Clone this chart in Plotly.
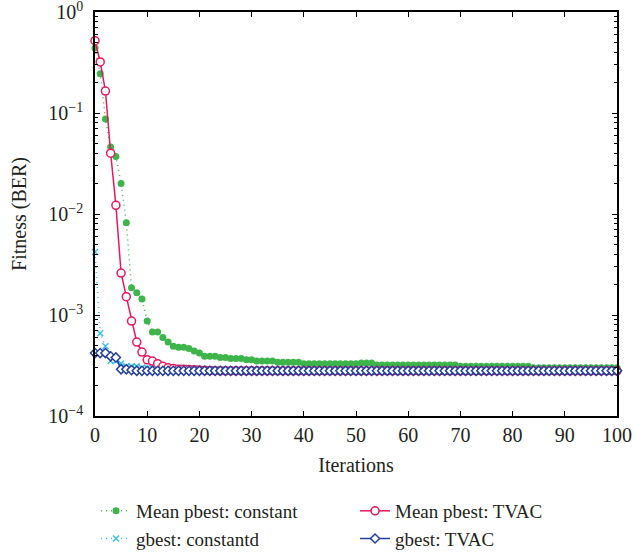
import plotly.graph_objects as go

iterations = list(range(0, 101))

mean_pbest_constant = [
    0.44, 0.245, 0.087, 0.046, 0.037, 0.020, 0.0082, 0.00186, 0.00166, 0.00144,
    0.00087, 0.00068, 0.00068, 0.00060, 0.00054, 0.00049, 0.00048, 0.00048, 0.000465, 0.00044,
    0.00042, 0.00039, 0.00039, 0.00039, 0.00038, 0.00038, 0.00037, 0.00037, 0.00037, 0.00036,
    0.00036, 0.00035, 0.00035, 0.00035, 0.00035, 0.00034, 0.00034, 0.00034, 0.00034, 0.00034,
    0.00033, 0.00033, 0.00033, 0.00033, 0.00033, 0.00033, 0.00033, 0.00033, 0.00033, 0.00033,
    0.00033, 0.000335, 0.000335, 0.000335, 0.00032, 0.00032, 0.00032, 0.00032, 0.00032, 0.00032,
    0.00032, 0.00032, 0.00032, 0.00032, 0.00032, 0.00032, 0.00032, 0.00032, 0.00032, 0.00032,
    0.00031, 0.00031, 0.00031, 0.00031, 0.00031, 0.00031, 0.00031, 0.00031, 0.00031, 0.00031,
    0.00031, 0.00031, 0.00031, 0.00031, 0.00030, 0.00030, 0.00030, 0.00030, 0.00030, 0.00030,
    0.00030, 0.00030, 0.00030, 0.00030, 0.00030, 0.00030, 0.00030, 0.00030, 0.00030, 0.00030,
    0.00030,
]

gbest_constant = [
    0.0042, 0.00066, 0.00049, 0.00035, 0.00035, 0.00033, 0.00031, 0.00031, 0.00031, 0.00030,
    0.00030, 0.00030, 0.00030, 0.00030, 0.00030, 0.00030, 0.00030, 0.00030, 0.000295, 0.000295,
    0.00029, 0.00029, 0.00029, 0.000285, 0.000285, 0.000285, 0.00028, 0.00028, 0.00028, 0.00028,
    0.00028, 0.00028, 0.00028, 0.00028, 0.00028, 0.00028, 0.00028, 0.00028, 0.00028, 0.00028,
    0.00028, 0.00028, 0.00028, 0.00028, 0.00028, 0.00028, 0.00028, 0.00028, 0.00028, 0.00028,
    0.00028, 0.00028, 0.00028, 0.00028, 0.00028, 0.00028, 0.00028, 0.00028, 0.00028, 0.00028,
    0.00028, 0.00028, 0.00028, 0.00028, 0.00028, 0.00028, 0.00028, 0.00028, 0.00028, 0.00028,
    0.00028, 0.00028, 0.00028, 0.00028, 0.00028, 0.00028, 0.00028, 0.00028, 0.00028, 0.00028,
    0.00028, 0.00028, 0.00028, 0.00028, 0.00028, 0.00028, 0.00028, 0.00028, 0.00028, 0.00028,
    0.00028, 0.00028, 0.00028, 0.00028, 0.00028, 0.00028, 0.00028, 0.00028, 0.00028, 0.00028,
    0.00028,
]

mean_pbest_tvac = [
    0.52, 0.32, 0.165, 0.040, 0.0122, 0.0026, 0.00152, 0.00087, 0.00054, 0.00043,
    0.00036, 0.00035, 0.00033, 0.00031, 0.00030, 0.000295, 0.00029, 0.00029, 0.000288, 0.000287,
    0.000285, 0.000283, 0.000282, 0.000281, 0.00028, 0.00028, 0.00028, 0.00028, 0.00028, 0.00028,
    0.00028, 0.00028, 0.00028, 0.00028, 0.00028, 0.00028, 0.00028, 0.00028, 0.00028, 0.00028,
    0.00028, 0.00028, 0.00028, 0.00028, 0.00028, 0.00028, 0.00028, 0.00028, 0.00028, 0.00028,
    0.00028, 0.00028, 0.00028, 0.00028, 0.00028, 0.00028, 0.00028, 0.00028, 0.00028, 0.00028,
    0.00028, 0.00028, 0.00028, 0.00028, 0.00028, 0.00028, 0.00028, 0.00028, 0.00028, 0.00028,
    0.00028, 0.00028, 0.00028, 0.00028, 0.00028, 0.00028, 0.00028, 0.00028, 0.00028, 0.00028,
    0.00028, 0.00028, 0.00028, 0.00028, 0.00028, 0.00028, 0.00028, 0.00028, 0.00028, 0.00028,
    0.00028, 0.00028, 0.00028, 0.00028, 0.00028, 0.00028, 0.00028, 0.00028, 0.00028, 0.00028,
    0.00028,
]

gbest_tvac = [
    0.00042, 0.00042, 0.00042, 0.00039, 0.00038, 0.00029, 0.00029, 0.000285, 0.00028, 0.00028,
    0.00028, 0.00028, 0.00028, 0.00028, 0.00028, 0.00028, 0.00028, 0.00028, 0.00028, 0.00028,
    0.00028, 0.00028, 0.00028, 0.00028, 0.00028, 0.00028, 0.00028, 0.00028, 0.00028, 0.00028,
    0.00028, 0.00028, 0.00028, 0.00028, 0.00028, 0.00028, 0.00028, 0.00028, 0.00028, 0.00028,
    0.00028, 0.00028, 0.00028, 0.00028, 0.00028, 0.00028, 0.00028, 0.00028, 0.00028, 0.00028,
    0.00028, 0.00028, 0.00028, 0.00028, 0.00028, 0.00028, 0.00028, 0.00028, 0.00028, 0.00028,
    0.00028, 0.00028, 0.00028, 0.00028, 0.00028, 0.00028, 0.00028, 0.00028, 0.00028, 0.00028,
    0.00028, 0.00028, 0.00028, 0.00028, 0.00028, 0.00028, 0.00028, 0.00028, 0.00028, 0.00028,
    0.00028, 0.00028, 0.00028, 0.00028, 0.00028, 0.00028, 0.00028, 0.00028, 0.00028, 0.00028,
    0.00028, 0.00028, 0.00028, 0.00028, 0.00028, 0.00028, 0.00028, 0.00028, 0.00028, 0.00028,
    0.00028,
]

y_tick_values = [1e-4, 1e-3, 1e-2, 1e-1, 1]
y_tick_labels = ["10<sup>−4</sup>", "10<sup>−3</sup>", "10<sup>−2</sup>", "10<sup>−1</sup>", "10<sup>0</sup>"]
y_minor_values = [m * d for d in [1e-4, 1e-3, 1e-2, 1e-1] for m in range(2, 10)]

FONT = "Liberation Serif"
TXT = "#231f20"

fig = go.Figure()

fig.add_trace(go.Scatter(
    x=iterations, y=mean_pbest_constant, name="Mean pbest: constant",
    mode="lines+markers", legendrank=1, cliponaxis=False,
    line=dict(color="#3db54a", width=1.5, dash="1px,4px"),
    marker=dict(symbol="circle", size=7, color="#3db54a"),
))
fig.add_trace(go.Scatter(
    x=iterations, y=gbest_constant, name="gbest: constantd",
    mode="lines+markers", legendrank=3, cliponaxis=False,
    line=dict(color="#3dbdea", width=1.5, dash="1px,4px"),
    marker=dict(symbol="x-thin", size=6, color="#3dbdea", line=dict(color="#3dbdea", width=1.5)),
))
fig.add_trace(go.Scatter(
    x=iterations, y=mean_pbest_tvac, name="Mean pbest: TVAC",
    mode="lines+markers", legendrank=2, cliponaxis=False,
    line=dict(color="#e8185c", width=1.5),
    marker=dict(symbol="circle", size=8, color="white", line=dict(color="#e8185c", width=1.5)),
))
fig.add_trace(go.Scatter(
    x=iterations, y=gbest_tvac, name="gbest: TVAC",
    mode="lines+markers", legendrank=4, cliponaxis=False,
    line=dict(color="#24409a", width=1.5),
    marker=dict(symbol="diamond", size=7, color="white", line=dict(color="#24409a", width=1.5)),
))

fig.update_layout(
    width=634, height=552,
    margin=dict(l=95, r=17, t=12, b=136, autoexpand=False),
    paper_bgcolor="white", plot_bgcolor="white",
    font=dict(family=FONT, size=19, color=TXT),
    showlegend=True,
    legend=dict(
        orientation="h", x=0.002, xanchor="left", y=-0.188, yanchor="top",
        entrywidth=214, entrywidthmode="pixels",
        font=dict(family=FONT, size=19, color=TXT),
        traceorder="normal", bgcolor="rgba(0,0,0,0)",
    ),
    xaxis=dict(
        range=[0, 100], tickmode="array", tickvals=list(range(0, 101, 10)),
        ticks="inside", ticklen=5, tickwidth=1.2, tickcolor="black",
        showline=True, linecolor="black", linewidth=1.5, mirror="ticks",
        showgrid=False, zeroline=False, automargin=False,
        ticklabeloverflow="allow",
        tickfont=dict(family=FONT, size=20, color=TXT),
        title=dict(text="Iterations", font=dict(family=FONT, size=20, color=TXT), standoff=13),
    ),
    yaxis=dict(
        type="log", range=[-4, 0], tickmode="array", tickvals=y_tick_values, ticktext=y_tick_labels,
        ticks="inside", ticklen=5, tickwidth=1.2, tickcolor="black",
        minor=dict(tickmode="array", tickvals=y_minor_values, ticks="inside", ticklen=3, tickwidth=1, tickcolor="black", showgrid=False),
        showline=True, linecolor="black", linewidth=1.5, mirror="ticks",
        showgrid=False, zeroline=False, automargin=False,
        ticklabeloverflow="allow",
        tickfont=dict(family=FONT, size=20, color=TXT),
        ticklabelstandoff=6,
        title=dict(text="Fitness (BER)", font=dict(family=FONT, size=20, color=TXT), standoff=16),
    ),
)

# remove the browser's default 8px body margin so the figure sits at the page origin
fig.write_html(
    "out.html",
    config={"displayModeBar": False},
    post_script="document.body.style.margin='0px';",
)
